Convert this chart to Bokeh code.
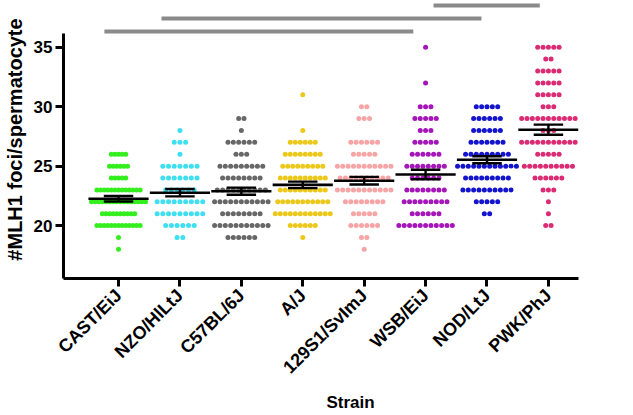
import math
import numpy as np
from bokeh.plotting import figure
from bokeh.models import Range1d, FixedTicker, Title
from bokeh.embed import file_html
from bokeh.resources import INLINE

# ---------------- data ----------------
strains = ["CAST/EiJ", "NZO/HlLtJ", "C57BL/6J", "A/J", "129S1/SvImJ", "WSB/EiJ", "NOD/LtJ", "PWK/PhJ"]

# MLH1 foci per spermatocyte (value) -> number of spermatocytes with that value
cast_foci = [26, 25, 24, 23, 22, 21, 20, 19, 18]
cast_cells = [5, 6, 5, 13, 16, 10, 13, 1, 1]

nzo_foci = [28, 27, 26, 25, 24, 23, 22, 21, 20, 19]
nzo_cells = [1, 3, 1, 7, 7, 6, 9, 9, 6, 2]

c57_foci = [29, 28, 27, 26, 25, 24, 23, 22, 21, 20, 19]
c57_cells = [2, 1, 6, 3, 9, 8, 10, 11, 8, 11, 6]

aj_foci = [31, 28, 27, 26, 25, 24, 23, 22, 21, 20, 19]
aj_cells = [1, 1, 6, 8, 9, 10, 10, 11, 12, 6, 1]

s129_foci = [30, 29, 27, 26, 25, 24, 23, 22, 21, 20, 19, 18]
s129_cells = [2, 3, 6, 5, 11, 10, 11, 8, 5, 6, 2, 1]

wsb_foci = [35, 32, 30, 29, 28, 27, 26, 25, 24, 23, 22, 21, 20]
wsb_cells = [1, 1, 3, 5, 3, 5, 6, 8, 6, 8, 9, 6, 11]

nod_foci = [30, 29, 28, 27, 26, 25, 24, 23, 22, 21]
nod_cells = [5, 6, 6, 7, 9, 12, 9, 10, 5, 2]

pwk_foci = [35, 34, 33, 32, 31, 30, 29, 28, 27, 26, 25, 24, 23, 22, 21, 20]
pwk_cells = [5, 2, 5, 5, 5, 3, 11, 3, 11, 5, 10, 6, 3, 1, 1, 2]

# significance brackets: (from category position, to category position, level)
sig_from = [-0.23, 0.70, 5.13]
sig_to = [4.80, 5.91, 6.86]
sig_level = [36.32, 37.41, 38.50]

y_ticks = [20, 25, 30, 35]
x_title = "Strain"
y_title = "#MLH1 foci/spermatocyte"

# ---------------- styles ----------------
colors = ["#35ee1e", "#3edff0", "#676767", "#ebc81a", "#f5a5a5", "#a516b8", "#1414cc", "#da2c74"]
pitch_px = [3.6, 5.7, 5.35, 5.0, 5.35, 5.35, 5.35, 5.35]
dot_size = 5.0
PX_PER_CAT = 61.4
FONT = "Liberation Sans"

all_foci = [cast_foci, nzo_foci, c57_foci, aj_foci, s129_foci, wsb_foci, nod_foci, pwk_foci]
all_cells = [cast_cells, nzo_cells, c57_cells, aj_cells, s129_cells, wsb_cells, nod_cells, pwk_cells]

p = figure(frame_width=515, frame_height=278, output_backend="svg", toolbar_location=None,
           x_range=Range1d(-0.896, 7.49), y_range=Range1d(15.55, 38.93),
           min_border_left=62, min_border_right=40, min_border_top=0, min_border_bottom=0)
p.outline_line_color = None
p.xgrid.visible = False
p.ygrid.visible = False
p.background_fill_color = "white"

means_x, means_y, sem_lo, sem_hi = [], [], [], []
for i, (foci, cells) in enumerate(zip(all_foci, all_cells)):
    xs, ys = [], []
    step = pitch_px[i] / PX_PER_CAT
    for v, n in zip(foci, cells):
        for k in range(n):
            xs.append(i + (k - (n - 1) / 2.0) * step)
            ys.append(v)
    p.scatter(xs, ys, size=dot_size, color=colors[i], line_color=None)
    arr = np.array(ys, dtype=float)
    m = arr.mean()
    sem = arr.std(ddof=1) / math.sqrt(len(arr))
    means_x.append(i)
    means_y.append(m)
    sem_lo.append(m - sem)
    sem_hi.append(m + sem)

mx = np.array(means_x, dtype=float)
# mean lines
p.segment(mx - 0.49, means_y, mx + 0.49, means_y, line_color="black", line_width=2.6)
# SEM error bars
p.segment(mx, sem_lo, mx, sem_hi, line_color="black", line_width=2.4)
p.segment(mx - 0.24, sem_lo, mx + 0.24, sem_lo, line_color="black", line_width=2.4)
p.segment(mx - 0.24, sem_hi, mx + 0.24, sem_hi, line_color="black", line_width=2.4)

# significance brackets
p.segment(sig_from, sig_level, sig_to, sig_level, line_color="#8a8a8a", line_width=4)

# axes
xa = p.xaxis[0]
xa.ticker = FixedTicker(ticks=list(range(len(strains))))
xa.major_label_overrides = {i: s for i, s in enumerate(strains)}
xa.major_label_orientation = math.pi / 4
xa.major_label_standoff = 6

ya = p.yaxis[0]
ya.ticker = FixedTicker(ticks=y_ticks)
ya.bounds = (15.55, 36.15)
ya.axis_label = y_title
ya.axis_label_standoff = 5
ya.major_label_standoff = 3

for ax in (xa, ya):
    ax.axis_line_width = 3
    ax.axis_line_color = "black"
    ax.major_tick_line_width = 3
    ax.major_tick_line_color = "black"
    ax.major_tick_out = 8
    ax.major_tick_in = 0
    ax.minor_tick_line_color = None
    ax.major_label_text_font = FONT
    ax.major_label_text_font_style = "bold"
    ax.major_label_text_color = "black"
    ax.axis_label_text_font = FONT
    ax.axis_label_text_font_style = "bold"
    ax.axis_label_text_color = "black"

xa.major_label_text_font_size = "18px"
ya.major_label_text_font_size = "17px"
ya.axis_label_text_font_size = "20px"

# x-axis title below the axis, placed right of the frame centre as in the reference
p.add_layout(Title(text=x_title, align="left", offset=263, standoff=6,
                   text_font=FONT, text_font_style="bold", text_font_size="17px",
                   text_color="black"), "below")

open("out.html", "w").write(file_html(p, INLINE))
